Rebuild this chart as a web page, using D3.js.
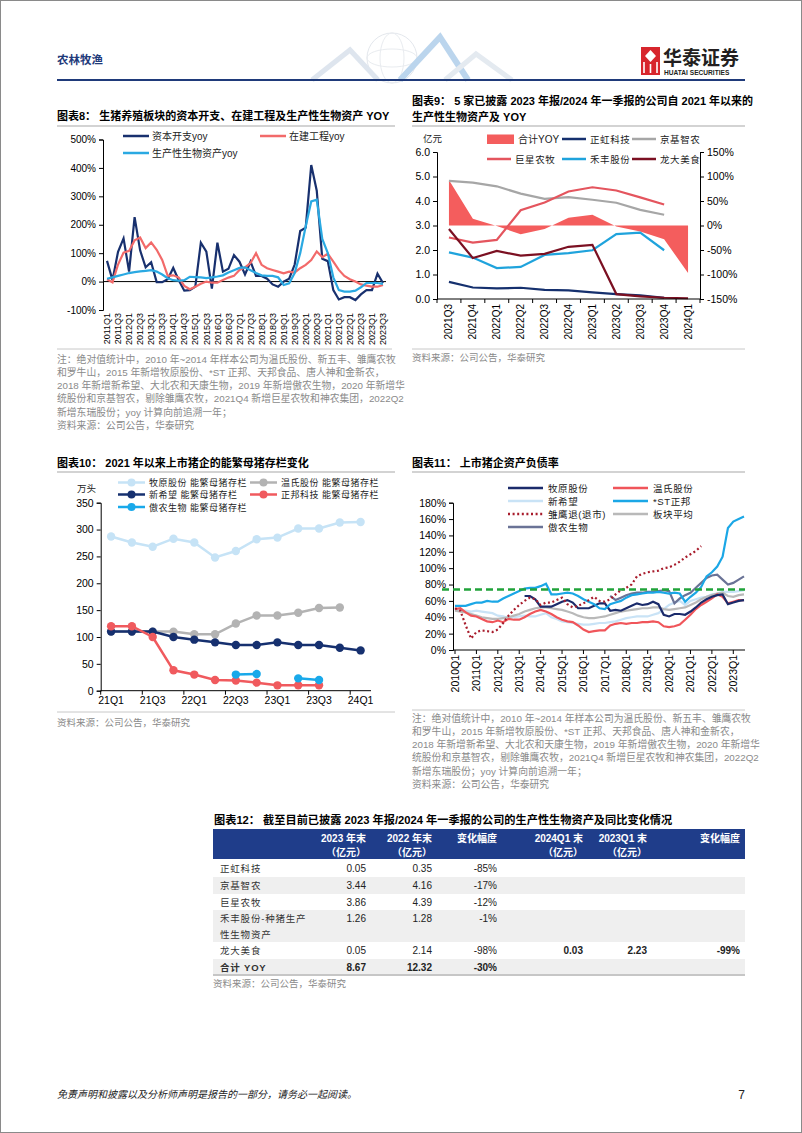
<!DOCTYPE html>
<html><head><meta charset="utf-8">
<script src="https://cdn.jsdelivr.net/npm/d3@7/dist/d3.min.js"></script>
<style>
html,body{margin:0;padding:0;background:#fff;}
svg{display:block;}
text{font-family:'Liberation Sans','Noto Sans CJK SC',sans-serif;}
</style></head>
<body>
<svg id="page" width="802" height="1133"></svg>
<script>
// ================= DATA =================
// Chart 8: quarterly YoY (%) 2011Q1 - 2023Q3
const quarters8 = d3.range(51).map(i => `${2011 + Math.floor(i / 4)}Q${i % 4 + 1}`);
const capexYoy = [73,5,105,152,35,227,110,50,68,-2,-2,8,48,5,-32,-30,-18,137,105,-25,137,35,45,93,70,25,70,20,20,10,-10,-18,0,10,60,178,190,410,320,80,72,-30,-63,-55,-55,-65,-45,-30,-30,28,-5];
const constructionYoy = [8,-3,60,102,108,145,155,118,138,112,76,20,22,14,-15,-27,-18,-8,0,-4,-4,6,14,20,41,50,65,100,59,47,41,35,29,35,32,47,59,76,106,86,98,70,41,20,8,0,-10,-14,-18,-18,-12];
const bioAssetYoy = [10,15,20,25,30,33,36,38,40,35,25,12,5,3,5,17,16,15,12,15,18,22,32,40,48,50,40,30,22,20,20,15,-12,-6,30,100,195,282,288,150,100,15,-30,-35,-35,-32,-20,-5,-5,-5,-8];
const legend8 = ["资本开支yoy", "在建工程yoy", "生产性生物资产yoy"];

// Chart 9: productive biological assets (亿元) and total YoY (%)
const quarters9 = ["2021Q3","2021Q4","2022Q1","2022Q2","2022Q3","2022Q4","2023Q1","2023Q2","2023Q3","2023Q4","2024Q1"];
const totalYoy9 = [93,14,-1,-18,-7,16,22,-2,-12,-28,-97];
const zhenghong9 = [0.70,0.47,0.43,0.46,0.37,0.35,0.27,0.20,0.15,0.05,null];
const jingji9 = [4.82,4.75,4.60,4.30,4.09,4.16,4.05,3.93,3.64,3.44,null];
const juxing9 = [2.51,2.30,2.41,3.62,3.94,4.39,4.56,4.43,4.15,3.86,null];
const hefeng9 = [1.90,1.69,1.26,1.31,1.80,1.87,1.99,2.65,2.71,1.99,null];
const longda9 = [2.86,1.67,1.96,1.77,1.84,2.13,2.21,0.20,0.11,0.05,0.03];
const legend9 = ["合计YOY","正虹科技","京基智农","巨星农牧","禾丰股份","龙大美食"];

// Chart 10: 能繁母猪存栏 (万头)
const quarters10 = ["21Q1","21Q2","21Q3","21Q4","22Q1","22Q2","22Q3","22Q4","23Q1","23Q2","23Q3","23Q4","24Q1"];
const muyuan10 = [287,276,268,283,276,248,260,282,285,302,302,313,314];
const wens10 = [110,110,110,110,105,105,125,140,140,145,154,155,null];
const xinxiwang10 = [110,110,110,100,95,90,85,85,90,85,85,80,75];
const zhengbang10 = [120,120,100,38,30,20,19,15,10,10,10,null,null];
const aonong10 = [null,null,null,null,null,null,30,31,null,23,20,null,null];
const legend10 = ["牧原股份 能繁母猪存栏","温氏股份 能繁母猪存栏","新希望 能繁母猪存栏","正邦科技 能繁母猪存栏","傲农生物 能繁母猪存栏"];

// Chart 11: 资产负债率 (%) 2010Q1 - 2023Q3
const quarters11 = d3.range(55).map(i => `${2010 + Math.floor(i / 4)}Q${i % 4 + 1}`);
const muyuan11 = [null,null,null,null,null,null,null,null,null,null,null,null,null,66,66,62,53,53,53,56,59,61,58,51,51,51,54,57,57,48,49,48,51,54,57,55,56,59,56,43,41,44,44,43,47,52,58,62,65,67,68,56,58,60,61];
const wens11 = [50,51,46,42,41,38,35,34,36,34,38,37,37,40,44,47,49,47,44,40,37,35,34,30,25,22,23,24,24,30,32,33,32,33,33,34,34,35,34,29,28,29,31,37,43,50,55,59,63,68,65,57,59,61,61];
const xinxiwang11 = [48,48,48,47,48,47,46,45,42,41,39,40,41,42,41,41,43,45,40,38,35,34,33,32,31,31,32,33,33,34,35,37,39,40,41,41,41,43,45,50,55,58,60,55,60,62,64,65,68,69,71,71,71,72,73];
const zhengbang11 = [54,54,54,56,58,58,60,59,59,63,66,69,72,75,76,76,78,81,68,68,69,70,69,66,62,59,56,51,50,56,58,60,64,67,68,69,70,70,71,70,69,70,69,59,65,70,77,90,95,102,114,149,157,160,163];
const chuying11 = [51,48,30,14,22,24,23,22,25,33,42,49,55,60,64,62,55,58,58,61,64,56,52,54,57,61,65,60,59,62,68,73,76,80,90,93,95,96,97,100,101,104,108,113,117,121,127,null,null,null,null,null,null,null,null];
const average11 = [48,47,46,44,42,40,39,38,38,39,40,42,44,47,49,51,52,52,51,50,49,47,45,42,40,39,39,40,41,43,45,47,48,49,50,51,51,52,52,50,49,50,51,52,55,58,62,65,67,69,70,66,65,67,68];
const aonong11 = [null,null,null,null,null,null,null,null,null,null,null,null,null,null,null,null,null,null,null,null,null,null,null,null,null,null,null,null,null,66,61,64,67,69,70,70,71,71,72,73,72,57,63,67,70,76,82,88,91,92,86,80,82,86,90];
const warningLine11 = 74;
const legend11 = ["牧原股份","温氏股份","新希望","*ST正邦","雏鹰退(退市)","板块平均","傲农生物"];

// Table 12
const tableNames = [["正虹科技"],["京基智农"],["巨星农牧"],["禾丰股份-种猪生产","性生物资产"],["龙大美食"],["合计 YOY"]];
const tEnd2023 = [0.05,3.44,3.86,1.26,0.05,8.67];
const tEnd2022 = [0.35,4.16,4.39,1.28,2.14,12.32];
const tChgYear = [-85,-17,-12,-1,-98,-30];
const tQ1_2024 = [null,null,null,null,0.03,null];
const tQ1_2023 = [null,null,null,null,2.23,null];
const tChgQ1 = [null,null,null,null,-99,null];
const tHeaders = [["2023 年末","（亿元）"],["2022 年末","（亿元）"],["变化幅度",""],["2024Q1 末","（亿元）"],["2023Q1 末","（亿元）"],["变化幅度",""]];

const noteLines = [
  "注：绝对值统计中，2010 年~2014 年样本公司为温氏股份、新五丰、雏鹰农牧",
  "和罗牛山，2015 年新增牧原股份、*ST 正邦、天邦食品、唐人神和金新农，",
  "2018 年新增新希望、大北农和天康生物，2019 年新增傲农生物，2020 年新增华",
  "统股份和京基智农，剔除雏鹰农牧，2021Q4 新增巨星农牧和神农集团，2022Q2",
  "新增东瑞股份；yoy 计算向前追溯一年；",
  "资料来源：公司公告，华泰研究"
];
const sourceText = "资料来源：公司公告，华泰研究";

// ================= DRAW =================
const svg = d3.select("#page");
svg.append("rect").attr("x",0.5).attr("y",0.5).attr("width",801).attr("height",1132)
  .attr("fill","#fff").attr("stroke","#8a8a8a");

function txt(g, x, y, s, o = {}) {
  const t = g.append("text").attr("x", x).attr("y", y).text(s)
    .attr("font-size", o.size || 10).attr("fill", o.fill || "#000");
  if (o.anchor) t.attr("text-anchor", o.anchor);
  if (o.weight) t.attr("font-weight", o.weight);
  if (o.ls) t.attr("letter-spacing", o.ls);
  if (o.style) t.attr("font-style", o.style);
  return t;
}
function styleAxis(g, size) {
  g.attr("font-family", null).attr("font-size", null);
  g.selectAll("text").attr("font-size", size).attr("fill", "#000");
  g.select(".domain").attr("stroke", "#000");
  g.selectAll(".tick line").attr("stroke", "#000");
}
function hline(g, x1, x2, y, color, w) {
  g.append("line").attr("x1", x1).attr("x2", x2).attr("y1", y).attr("y2", y)
    .attr("stroke", color).attr("stroke-width", w || 1);
}

// ---------- Header ----------
const hd = svg.append("g");
const deco = hd.append("g").attr("fill", "none").attr("opacity", 0.75);
deco.append("circle").attr("cx", 392).attr("cy", 58).attr("r", 25).attr("stroke", "#dbe0e7").attr("stroke-width", 1);
deco.append("ellipse").attr("cx", 392).attr("cy", 58).attr("rx", 12).attr("ry", 25).attr("stroke", "#e2e6eb");
deco.append("ellipse").attr("cx", 392).attr("cy", 58).attr("rx", 25).attr("ry", 9).attr("stroke", "#e2e6eb");
deco.append("path").attr("d", "M312,80 L350,50 L378,80").attr("stroke", "#d3dde9").attr("stroke-width", 5);
deco.append("path").attr("d", "M400,80 L440,37 L468,80").attr("stroke", "#a5c8e8").attr("stroke-width", 6);
deco.append("path").attr("d", "M445,80 L476,54 L512,80").attr("stroke", "#dbe3ec").attr("stroke-width", 5);
txt(hd, 57, 64, "农林牧渔", {size: 11.5, weight: "bold", fill: "#1f3a7a"});
hline(hd, 57, 745, 80, "#1f3a7a", 2);
// logo
hd.append("rect").attr("x", 641).attr("y", 47).attr("width", 19).attr("height", 28).attr("fill", "#d7262d");
hd.append("path").attr("d", "M650.5,50 L656,56 L650.5,62 L645,56 Z").attr("fill", "#fff");
hd.append("path").attr("d", "M644,62 V73 M650.5,64 V73 M657,62 V73").attr("stroke", "#fff").attr("stroke-width", 1.6);
txt(hd, 663, 65, "华泰证券", {size: 19, weight: "bold", fill: "#231f20"});
txt(hd, 664, 75, "HUATAI SECURITIES", {size: 6.6, weight: "bold", fill: "#231f20"});

// ---------- Chart 8 ----------
const g8 = svg.append("g");
txt(g8, 57, 120, "图表8：  生猪养殖板块的资本开支、在建工程及生产性生物资产 YOY", {size: 11, weight: "bold"});
hline(g8, 57, 395, 126, "#c4c4c4", 1.5);
const x8 = d3.scalePoint().domain(quarters8).range([107, 383]);
const y8 = d3.scaleLinear().domain([-100, 500]).range([310, 139.5]);
const ax8 = g8.append("g").attr("transform", "translate(103,0)")
  .call(d3.axisLeft(y8).tickValues(d3.range(-100, 501, 100)).tickFormat(d => d + "%").tickSize(4));
styleAxis(ax8, 10);
hline(g8, 103, 386, y8(0), "#000", 1);
g8.append("g").selectAll("text").data(quarters8.filter((d, i) => i % 2 === 0)).join("text")
  .attr("transform", d => `translate(${x8(d)},313) rotate(-90)`)
  .attr("text-anchor", "end").attr("dy", "0.35em").attr("font-size", 9).text(d => d);
const series8 = [[capexYoy, "#18306e"], [constructionYoy, "#f26a6a"], [bioAssetYoy, "#2aa9e2"]];
const line8 = d3.line().x((d, i) => x8(quarters8[i])).y(d => y8(d));
series8.forEach(([vals, c]) => {
  g8.append("path").attr("d", line8(vals)).attr("fill", "none").attr("stroke", c).attr("stroke-width", 2.2);
});
[[123, 136, 0], [260, 136, 1], [123, 153, 2]].forEach(([lx, ly, k]) => {
  hline(g8, lx, lx + 26, ly, series8[k][1], 2.5);
  txt(g8, lx + 29, ly + 3.5, legend8[k], {size: 10, fill: "#222"});
});
hline(g8, 57, 392, 349, "#c8c8c8", 1);
noteLines.forEach((s, i) => txt(g8, 57, 362.5 + i * 13.3, s, {size: 9.8, fill: "#8a8a8a"}));

// ---------- Chart 9 ----------
const g9 = svg.append("g");
txt(g9, 412, 105, "图表9：  5 家已披露 2023 年报/2024 年一季报的公司自 2021 年以来的", {size: 11, weight: "bold"});
txt(g9, 412, 120.5, "生产性生物资产及 YOY", {size: 11, weight: "bold"});
hline(g9, 412, 745, 126, "#c4c4c4", 1.5);
const x9 = d3.scaleBand().domain(quarters9).range([437, 700]);
const cx9 = d => x9(d) + x9.bandwidth() / 2;
const yL9 = d3.scaleLinear().domain([0, 6]).range([299, 152]);
const yR9 = d3.scaleLinear().domain([-150, 150]).range([299, 152]);
g9.append("path").attr("d", d3.area().x((d, i) => cx9(quarters9[i])).y0(yR9(0)).y1(d => yR9(d))(totalYoy9))
  .attr("fill", "#f45d5d");
const series9 = [[zhenghong9, "#15306e"], [jingji9, "#a6a6a6"], [juxing9, "#e4555e"], [hefeng9, "#1fa3dc"], [longda9, "#7b1022"]];
const line9 = d3.line().defined(d => d != null).x((d, i) => cx9(quarters9[i])).y(d => yL9(d));
series9.forEach(([vals, c]) => {
  g9.append("path").attr("d", line9(vals)).attr("fill", "none").attr("stroke", c).attr("stroke-width", 2.2);
});
const axL9 = g9.append("g").attr("transform", "translate(437,0)")
  .call(d3.axisLeft(yL9).tickValues(d3.range(0, 7)).tickSize(4));
styleAxis(axL9, 10.5);
const axR9 = g9.append("g").attr("transform", "translate(700,0)")
  .call(d3.axisRight(yR9).tickValues(d3.range(-150, 151, 50)).tickFormat(d => d + "%").tickSize(4));
styleAxis(axR9, 10.5);
hline(g9, 437, 700, 299, "#000", 1);
g9.append("g").selectAll("line").data(quarters9.map(d => x9(d)).concat([700])).join("line")
  .attr("x1", d => d).attr("x2", d => d).attr("y1", 299).attr("y2", 303).attr("stroke", "#000");
g9.append("g").selectAll("text").data(quarters9).join("text")
  .attr("transform", d => `translate(${cx9(d)},304) rotate(-90)`)
  .attr("text-anchor", "end").attr("dy", "0.35em").attr("font-size", 10).text(d => d);
txt(g9, 423, 142, "亿元", {size: 9.5, fill: "#222"});
g9.append("rect").attr("x", 487).attr("y", 134.5).attr("width", 27).attr("height", 9.5).attr("fill", "#f45d5d");
txt(g9, 518, 142.5, legend9[0], {size: 10, fill: "#222"});
[[562, 139, 0, 1], [632, 139, 1, 2], [487, 159, 2, 3], [562, 159, 3, 4], [632, 159, 4, 5]].forEach(([lx, ly, k, li]) => {
  hline(g9, lx, lx + 24, ly, series9[k][1], 2.5);
  txt(g9, lx + 28, ly + 3.5, legend9[li], {size: 9.5, fill: "#222", ls: 0.6});
});
hline(g9, 412, 745, 349, "#c8c8c8", 1);
txt(g9, 412, 361, sourceText, {size: 9.5, fill: "#8a8a8a"});

// ---------- Chart 10 ----------
const g10 = svg.append("g");
txt(g10, 57, 467, "图表10：  2021 年以来上市猪企的能繁母猪存栏变化", {size: 11, weight: "bold"});
hline(g10, 57, 395, 472, "#c4c4c4", 1.5);
const x10 = d3.scaleBand().domain(quarters10).range([100.7, 371]);
const cx10 = d => x10(d) + x10.bandwidth() / 2;
const y10 = d3.scaleLinear().domain([0, 350]).range([690.7, 502.7]);
const ax10 = g10.append("g").attr("transform", "translate(100.7,0)")
  .call(d3.axisLeft(y10).tickValues(d3.range(0, 351, 50)).tickSize(4));
styleAxis(ax10, 10.5);
hline(g10, 100.7, 371, 690.7, "#000", 1);
const even10 = quarters10.filter((d, i) => i % 2 === 0);
g10.append("g").selectAll("line").data(even10).join("line")
  .attr("x1", d => x10(d)).attr("x2", d => x10(d)).attr("y1", 690.7).attr("y2", 694.7).attr("stroke", "#000");
g10.append("g").selectAll("text").data(even10).join("text")
  .attr("x", d => cx10(d)).attr("y", 704).attr("text-anchor", "middle").attr("font-size", 10.5).text(d => d);
const series10 = [[muyuan10, "#c6e3f6"], [wens10, "#b3b3b3"], [xinxiwang10, "#16306f"], [zhengbang10, "#f05a5e"], [aonong10, "#19a9ea"]];
const line10 = d3.line().defined(d => d != null).x((d, i) => cx10(quarters10[i])).y(d => y10(d));
series10.forEach(([vals, c]) => {
  const sg = g10.append("g");
  sg.append("path").attr("d", line10(vals)).attr("fill", "none").attr("stroke", c).attr("stroke-width", 2.5);
  sg.selectAll("circle").data(vals.map((v, i) => [v, i]).filter(d => d[0] != null)).join("circle")
    .attr("cx", d => cx10(quarters10[d[1]])).attr("cy", d => y10(d[0])).attr("r", 4.2).attr("fill", c);
});
txt(g10, 77, 491.5, "万头", {size: 9.5, fill: "#222"});
[[118, 482.5, 0], [250, 482.5, 1], [118, 494.5, 2], [250, 494.5, 3], [118, 507, 4]].forEach(([lx, ly, k]) => {
  hline(g10, lx, lx + 27, ly, series10[k][1], 2.5);
  g10.append("circle").attr("cx", lx + 13.5).attr("cy", ly).attr("r", 4).attr("fill", series10[k][1]);
  txt(g10, lx + 31, ly + 3.5, legend10[k], {size: 9, fill: "#222", ls: 0.5});
});
hline(g10, 57, 395, 712, "#c8c8c8", 1);
txt(g10, 57, 726, sourceText, {size: 9.5, fill: "#8a8a8a"});

// ---------- Chart 11 ----------
const g11 = svg.append("g");
txt(g11, 412, 467, "图表11：  上市猪企资产负债率", {size: 11, weight: "bold"});
hline(g11, 412, 745, 472, "#c4c4c4", 1.5);
const x11 = d3.scalePoint().domain(quarters11).range([455, 744]);
const y11 = d3.scaleLinear().domain([0, 180]).range([650, 502.7]);
const ax11 = g11.append("g").attr("transform", "translate(453,0)")
  .call(d3.axisLeft(y11).tickValues(d3.range(0, 181, 20)).tickFormat(d => d + "%").tickSize(4));
styleAxis(ax11, 10.5);
hline(g11, 453, 745, 650, "#000", 1);
const q1s = quarters11.filter(d => d.endsWith("Q1"));
g11.append("g").selectAll("line").data(q1s).join("line")
  .attr("x1", d => x11(d)).attr("x2", d => x11(d)).attr("y1", 650).attr("y2", 654).attr("stroke", "#000");
g11.append("g").selectAll("text").data(q1s).join("text")
  .attr("transform", d => `translate(${x11(d)},655) rotate(-90)`)
  .attr("text-anchor", "end").attr("dy", "0.35em").attr("font-size", 10.5).text(d => d);
const series11 = {
  "新希望": [xinxiwang11, "#c9e3f6", null],
  "板块平均": [average11, "#b9b9b9", null],
  "温氏股份": [wens11, "#f0555a", null],
  "傲农生物": [aonong11, "#6a7396", null],
  "牧原股份": [muyuan11, "#1b2b6b", null],
  "*ST正邦": [zhengbang11, "#1ba7e6", null],
  "雏鹰退(退市)": [chuying11, "#a81c2c", "2,2.6"]
};
const line11 = d3.line().defined(d => d != null).x((d, i) => x11(quarters11[i])).y(d => y11(d));
Object.values(series11).forEach(([vals, c, dash]) => {
  const p = g11.append("path").attr("d", line11(vals)).attr("fill", "none").attr("stroke", c).attr("stroke-width", 2.2);
  if (dash) p.attr("stroke-dasharray", dash);
});
g11.append("line").attr("x1", 442).attr("x2", 745).attr("y1", y11(warningLine11)).attr("y2", y11(warningLine11))
  .attr("stroke", "#20a33a").attr("stroke-width", 2.4).attr("stroke-dasharray", "7,4");
legend11.forEach((name, i) => {
  const lx = i % 2 === 0 ? 508 : 613, ly = 488 + Math.floor(i / 2) * 13;
  const [, c, dash] = series11[name];
  const l = g11.append("line").attr("x1", lx).attr("x2", lx + 35).attr("y1", ly).attr("y2", ly)
    .attr("stroke", c).attr("stroke-width", 2.4);
  if (dash) l.attr("stroke-dasharray", dash);
  txt(g11, lx + 40, ly + 3.5, name, {size: 9.5, fill: "#222", ls: 0.6});
});
hline(g11, 412, 745, 710, "#c8c8c8", 1);
noteLines.forEach((s, i) => txt(g11, 412, 721.5 + i * 13.3, s, {size: 9.8, fill: "#8a8a8a"}));

// ---------- Table 12 ----------
const gt = svg.append("g");
txt(gt, 214, 824, "图表12：  截至目前已披露 2023 年报/2024 年一季报的公司的生产性生物资产及同比变化情况", {size: 11.2, weight: "bold"});
gt.append("rect").attr("x", 213).attr("y", 829).attr("width", 532).attr("height", 30).attr("fill", "#1f3d8a");
const colRight = [366, 432, 497, 583, 647, 740];
tHeaders.forEach((h, i) => {
  txt(gt, colRight[i], 842, h[0], {size: 10, weight: "bold", fill: "#fff", anchor: "end"});
  if (h[1]) txt(gt, colRight[i], 855.5, h[1], {size: 10, weight: "bold", fill: "#fff", anchor: "end"});
});
const rowH = [17, 17, 16, 32, 17, 16];
const fmt2 = d3.format(".2f");
let ry = 860;
tableNames.forEach((nm, r) => {
  const h = rowH[r];
  if (r % 2 === 1) gt.append("rect").attr("x", 213).attr("y", ry).attr("width", 532).attr("height", h).attr("fill", "#efefef");
  const base = ry + (nm.length > 1 ? 12 : h / 2 + 3.8);
  const bold = r === tableNames.length - 1 ? "bold" : null;
  nm.forEach((s, k) => txt(gt, 220, base + k * 16, s, {size: 9.5, fill: "#333", weight: bold, ls: 0.8}));
  const vals = [fmt2(tEnd2023[r]), fmt2(tEnd2022[r]), tChgYear[r] + "%",
    tQ1_2024[r] == null ? "" : fmt2(tQ1_2024[r]),
    tQ1_2023[r] == null ? "" : fmt2(tQ1_2023[r]),
    tChgQ1[r] == null ? "" : tChgQ1[r] + "%"];
  vals.forEach((v, c) => {
    if (v !== "") txt(gt, colRight[c], base, v, {size: 10, fill: "#222", anchor: "end", weight: (bold || c >= 3) ? "bold" : null});
  });
  ry += h;
});
hline(gt, 213, 745, ry, "#c6c6c6", 2);
txt(gt, 213, 987, sourceText, {size: 9.5, fill: "#8a8a8a"});

// ---------- Footer ----------
txt(svg, 57, 1098, "免责声明和披露以及分析师声明是报告的一部分，请务必一起阅读。", {size: 10, fill: "#222", style: "italic"});
txt(svg, 745, 1099, "7", {size: 12, fill: "#222", anchor: "end"});
</script>
</body></html>
